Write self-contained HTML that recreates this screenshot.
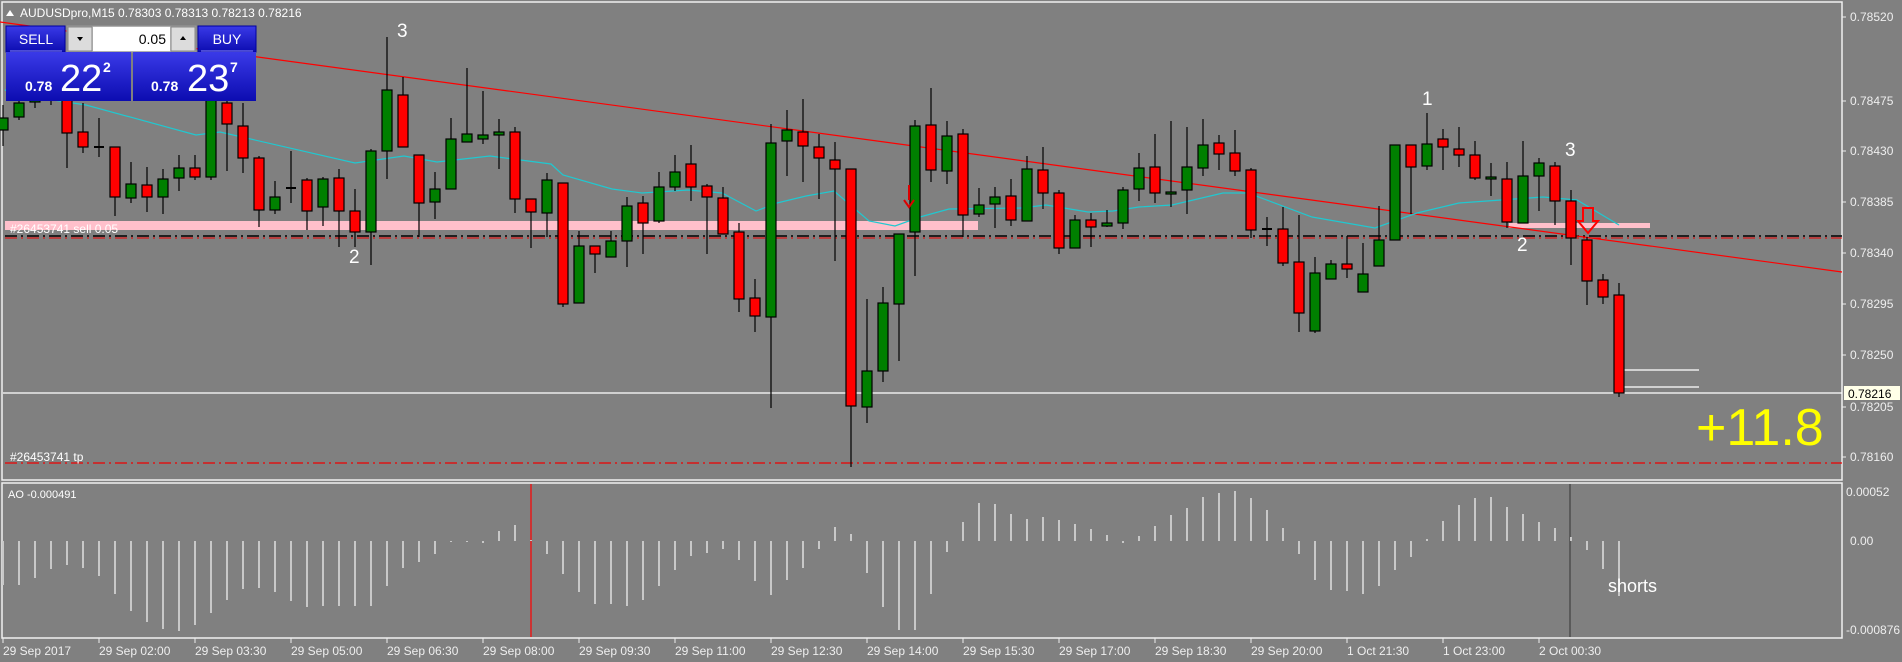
<!DOCTYPE html>
<html><head><meta charset="utf-8"><style>
html,body{margin:0;padding:0;background:#808080;width:1902px;height:662px;overflow:hidden}
svg{display:block}
text{font-family:"Liberation Sans",sans-serif}
</style></head><body>
<svg width="1902" height="662" viewBox="0 0 1902 662" xmlns="http://www.w3.org/2000/svg">
<defs>
<linearGradient id="bl" x1="0" y1="0" x2="0" y2="1"><stop offset="0" stop-color="#3a3ae8"/><stop offset="1" stop-color="#0c0cb0"/></linearGradient>
</defs>
<rect width="1902" height="662" fill="#808080"/>
<!-- frames -->
<g stroke="#f0f0f0" stroke-width="1.5" fill="none">
<rect x="2" y="2" width="1840" height="478"/>
<rect x="2" y="483" width="1840" height="155"/>
</g>
<!-- pink bands -->
<rect x="5" y="221" width="973" height="9" fill="#ffc0cb"/>
<rect x="1509" y="223" width="141" height="5" fill="#ffc0cb"/>
<!-- horizontal lines -->
<line x1="5" y1="236" x2="1842" y2="236" stroke="#000" stroke-width="1.5" stroke-dasharray="12,4,2,4"/>
<line x1="5" y1="238" x2="1842" y2="238" stroke="#e00" stroke-width="1" stroke-dasharray="12,4,2,4"/>
<line x1="5" y1="463" x2="1842" y2="463" stroke="#e00" stroke-width="1.2" stroke-dasharray="12,4,2,4"/>
<line x1="3" y1="393" x2="1842" y2="393" stroke="#fff" stroke-width="1.2"/>
<line x1="1624" y1="370" x2="1699" y2="370" stroke="#fff" stroke-width="1.2"/>
<line x1="1624" y1="387" x2="1699" y2="387" stroke="#fff" stroke-width="1.2"/>
<!-- trendline -->
<line x1="0" y1="22" x2="1842" y2="272" stroke="#ff0000" stroke-width="1.2"/>
<!-- MA -->
<polyline fill="none" stroke="#20c8d0" stroke-width="1.2" points="5,90 40,98 86,105 196,135 220,132 355,163 404,156 437,162 490,156 551,164 563,175 612,189 642,193 688,190 722,193 756,211 777,203 806,196 834,191 869,221 895,226 920,217 949,209 1021,208 1046,205 1088,212 1113,211 1139,207 1172,205 1223,193 1248,193 1312,217 1375,228 1417,213 1459,203 1501,200 1543,197 1577,200 1619,225"/>
<!-- candles -->
<g id="c" stroke="#000" stroke-width="1.2">
<line x1="3" y1="105" x2="3" y2="146"/><rect x="-2" y="118" width="10" height="12" fill="#008000"/>
<line x1="19" y1="95" x2="19" y2="120"/><rect x="14" y="103" width="10" height="14" fill="#008000"/>
<line x1="35" y1="90" x2="35" y2="108"/><rect x="30" y="95" width="10" height="7" fill="#008000"/>
<line x1="51" y1="85" x2="51" y2="105"/><rect x="46" y="90" width="10" height="10" fill="#f00"/>
<line x1="67" y1="95" x2="67" y2="168"/><rect x="62" y="100" width="10" height="33" fill="#f00"/>
<line x1="83" y1="103" x2="83" y2="153"/><rect x="78" y="132" width="10" height="15" fill="#f00"/>
<line x1="99" y1="118" x2="99" y2="157"/><line x1="94" y1="147" x2="104" y2="147" stroke-width="2"/>
<line x1="115" y1="147" x2="115" y2="216"/><rect x="110" y="147" width="10" height="50" fill="#f00"/>
<line x1="131" y1="162" x2="131" y2="203"/><rect x="126" y="184" width="10" height="14" fill="#008000"/>
<line x1="147" y1="167" x2="147" y2="212"/><rect x="142" y="185" width="10" height="12" fill="#f00"/>
<line x1="163" y1="169" x2="163" y2="214"/><rect x="158" y="179" width="10" height="18" fill="#008000"/>
<line x1="179" y1="155" x2="179" y2="191"/><rect x="174" y="168" width="10" height="10" fill="#008000"/>
<line x1="195" y1="155" x2="195" y2="180"/><rect x="190" y="168" width="10" height="9" fill="#f00"/>
<line x1="211" y1="85" x2="211" y2="180"/><rect x="206" y="100" width="10" height="77" fill="#008000"/>
<line x1="227" y1="92" x2="227" y2="171"/><rect x="222" y="103" width="10" height="21" fill="#f00"/>
<line x1="243" y1="103" x2="243" y2="173"/><rect x="238" y="126" width="10" height="32" fill="#f00"/>
<line x1="259" y1="156" x2="259" y2="227"/><rect x="254" y="158" width="10" height="52" fill="#f00"/>
<line x1="275" y1="181" x2="275" y2="214"/><rect x="270" y="197" width="10" height="13" fill="#008000"/>
<line x1="291" y1="151" x2="291" y2="203"/><line x1="286" y1="188" x2="296" y2="188" stroke-width="2"/>
<line x1="307" y1="178" x2="307" y2="230"/><rect x="302" y="180" width="10" height="31" fill="#f00"/>
<line x1="323" y1="177" x2="323" y2="226"/><rect x="318" y="179" width="10" height="28" fill="#008000"/>
<line x1="339" y1="169" x2="339" y2="247"/><rect x="334" y="178" width="10" height="33" fill="#f00"/>
<line x1="355" y1="189" x2="355" y2="247"/><rect x="350" y="211" width="10" height="21" fill="#f00"/>
<line x1="371" y1="149" x2="371" y2="265"/><rect x="366" y="151" width="10" height="81" fill="#008000"/>
<line x1="387" y1="37" x2="387" y2="179"/><rect x="382" y="90" width="10" height="61" fill="#008000"/>
<line x1="403" y1="77" x2="403" y2="147"/><rect x="398" y="95" width="10" height="52" fill="#f00"/>
<line x1="419" y1="155" x2="419" y2="237"/><rect x="414" y="155" width="10" height="48" fill="#f00"/>
<line x1="435" y1="172" x2="435" y2="219"/><rect x="430" y="189" width="10" height="13" fill="#008000"/>
<line x1="451" y1="118" x2="451" y2="189"/><rect x="446" y="139" width="10" height="50" fill="#008000"/>
<line x1="467" y1="68" x2="467" y2="142"/><rect x="462" y="134" width="10" height="8" fill="#008000"/>
<line x1="483" y1="91" x2="483" y2="144"/><rect x="478" y="135" width="10" height="4" fill="#008000"/>
<line x1="499" y1="119" x2="499" y2="169"/><rect x="494" y="132" width="10" height="3" fill="#008000"/>
<line x1="515" y1="127" x2="515" y2="213"/><rect x="510" y="132" width="10" height="67" fill="#f00"/>
<line x1="531" y1="199" x2="531" y2="248"/><rect x="526" y="199" width="10" height="13" fill="#f00"/>
<line x1="547" y1="173" x2="547" y2="237"/><rect x="542" y="180" width="10" height="33" fill="#008000"/>
<line x1="563" y1="183" x2="563" y2="307"/><rect x="558" y="183" width="10" height="121" fill="#f00"/>
<line x1="579" y1="231" x2="579" y2="303"/><rect x="574" y="246" width="10" height="57" fill="#008000"/>
<line x1="595" y1="246" x2="595" y2="273"/><rect x="590" y="246" width="10" height="8" fill="#f00"/>
<line x1="611" y1="231" x2="611" y2="257"/><rect x="606" y="241" width="10" height="16" fill="#008000"/>
<line x1="627" y1="197" x2="627" y2="267"/><rect x="622" y="206" width="10" height="35" fill="#008000"/>
<line x1="643" y1="196" x2="643" y2="254"/><rect x="638" y="203" width="10" height="20" fill="#f00"/>
<line x1="659" y1="172" x2="659" y2="223"/><rect x="654" y="187" width="10" height="34" fill="#008000"/>
<line x1="675" y1="155" x2="675" y2="191"/><rect x="670" y="172" width="10" height="15" fill="#008000"/>
<line x1="691" y1="145" x2="691" y2="201"/><rect x="686" y="164" width="10" height="23" fill="#f00"/>
<line x1="707" y1="184" x2="707" y2="254"/><rect x="702" y="186" width="10" height="11" fill="#f00"/>
<line x1="723" y1="187" x2="723" y2="234"/><rect x="718" y="198" width="10" height="36" fill="#f00"/>
<line x1="739" y1="223" x2="739" y2="312"/><rect x="734" y="232" width="10" height="67" fill="#f00"/>
<line x1="755" y1="279" x2="755" y2="332"/><rect x="750" y="298" width="10" height="18" fill="#f00"/>
<line x1="771" y1="124" x2="771" y2="408"/><rect x="766" y="143" width="10" height="174" fill="#008000"/>
<line x1="787" y1="110" x2="787" y2="176"/><rect x="782" y="130" width="10" height="11" fill="#008000"/>
<line x1="803" y1="99" x2="803" y2="182"/><rect x="798" y="132" width="10" height="14" fill="#f00"/>
<line x1="819" y1="134" x2="819" y2="199"/><rect x="814" y="147" width="10" height="11" fill="#f00"/>
<line x1="835" y1="142" x2="835" y2="261"/><rect x="830" y="160" width="10" height="9" fill="#f00"/>
<line x1="851" y1="169" x2="851" y2="467"/><rect x="846" y="169" width="10" height="237" fill="#f00"/>
<line x1="867" y1="299" x2="867" y2="423"/><rect x="862" y="371" width="10" height="36" fill="#008000"/>
<line x1="883" y1="287" x2="883" y2="382"/><rect x="878" y="303" width="10" height="68" fill="#008000"/>
<line x1="899" y1="234" x2="899" y2="361"/><rect x="894" y="234" width="10" height="70" fill="#008000"/>
<line x1="915" y1="120" x2="915" y2="276"/><rect x="910" y="126" width="10" height="106" fill="#008000"/>
<line x1="931" y1="88" x2="931" y2="182"/><rect x="926" y="125" width="10" height="45" fill="#f00"/>
<line x1="947" y1="121" x2="947" y2="184"/><rect x="942" y="136" width="10" height="35" fill="#008000"/>
<line x1="963" y1="129" x2="963" y2="237"/><rect x="958" y="134" width="10" height="81" fill="#f00"/>
<line x1="979" y1="188" x2="979" y2="217"/><rect x="974" y="205" width="10" height="9" fill="#008000"/>
<line x1="995" y1="187" x2="995" y2="228"/><rect x="990" y="197" width="10" height="7" fill="#008000"/>
<line x1="1011" y1="179" x2="1011" y2="226"/><rect x="1006" y="196" width="10" height="24" fill="#f00"/>
<line x1="1027" y1="156" x2="1027" y2="221"/><rect x="1022" y="169" width="10" height="52" fill="#008000"/>
<line x1="1043" y1="147" x2="1043" y2="209"/><rect x="1038" y="170" width="10" height="23" fill="#f00"/>
<line x1="1059" y1="190" x2="1059" y2="254"/><rect x="1054" y="193" width="10" height="55" fill="#f00"/>
<line x1="1075" y1="215" x2="1075" y2="248"/><rect x="1070" y="220" width="10" height="28" fill="#008000"/>
<line x1="1091" y1="213" x2="1091" y2="247"/><rect x="1086" y="220" width="10" height="7" fill="#f00"/>
<line x1="1107" y1="210" x2="1107" y2="227"/><rect x="1102" y="223" width="10" height="3" fill="#008000"/>
<line x1="1123" y1="187" x2="1123" y2="229"/><rect x="1118" y="190" width="10" height="33" fill="#008000"/>
<line x1="1139" y1="153" x2="1139" y2="201"/><rect x="1134" y="168" width="10" height="21" fill="#008000"/>
<line x1="1155" y1="134" x2="1155" y2="203"/><rect x="1150" y="167" width="10" height="26" fill="#f00"/>
<line x1="1171" y1="121" x2="1171" y2="207"/><rect x="1166" y="192" width="10" height="2" fill="#008000"/>
<line x1="1187" y1="127" x2="1187" y2="214"/><rect x="1182" y="167" width="10" height="23" fill="#008000"/>
<line x1="1203" y1="119" x2="1203" y2="176"/><rect x="1198" y="145" width="10" height="23" fill="#008000"/>
<line x1="1219" y1="135" x2="1219" y2="170"/><rect x="1214" y="143" width="10" height="11" fill="#f00"/>
<line x1="1235" y1="130" x2="1235" y2="176"/><rect x="1230" y="153" width="10" height="18" fill="#f00"/>
<line x1="1251" y1="168" x2="1251" y2="238"/><rect x="1246" y="170" width="10" height="60" fill="#f00"/>
<line x1="1267" y1="217" x2="1267" y2="246"/><line x1="1262" y1="229" x2="1272" y2="229" stroke-width="2"/>
<line x1="1283" y1="207" x2="1283" y2="266"/><rect x="1278" y="229" width="10" height="34" fill="#f00"/>
<line x1="1299" y1="215" x2="1299" y2="332"/><rect x="1294" y="262" width="10" height="51" fill="#f00"/>
<line x1="1315" y1="257" x2="1315" y2="333"/><rect x="1310" y="273" width="10" height="58" fill="#008000"/>
<line x1="1331" y1="260" x2="1331" y2="279"/><rect x="1326" y="264" width="10" height="15" fill="#008000"/>
<line x1="1347" y1="236" x2="1347" y2="278"/><rect x="1342" y="264" width="10" height="5" fill="#f00"/>
<line x1="1363" y1="243" x2="1363" y2="292"/><rect x="1358" y="274" width="10" height="18" fill="#008000"/>
<line x1="1379" y1="206" x2="1379" y2="266"/><rect x="1374" y="240" width="10" height="26" fill="#008000"/>
<rect x="1390" y="145" width="10" height="95" fill="#008000"/>
<line x1="1411" y1="145" x2="1411" y2="214"/><rect x="1406" y="145" width="10" height="22" fill="#f00"/>
<line x1="1427" y1="113" x2="1427" y2="170"/><rect x="1422" y="144" width="10" height="22" fill="#008000"/>
<line x1="1443" y1="129" x2="1443" y2="170"/><rect x="1438" y="139" width="10" height="8" fill="#f00"/>
<line x1="1459" y1="127" x2="1459" y2="167"/><rect x="1454" y="149" width="10" height="6" fill="#f00"/>
<line x1="1475" y1="141" x2="1475" y2="180"/><rect x="1470" y="155" width="10" height="23" fill="#f00"/>
<line x1="1491" y1="163" x2="1491" y2="196"/><rect x="1486" y="177" width="10" height="2" fill="#008000"/>
<line x1="1507" y1="162" x2="1507" y2="228"/><rect x="1502" y="179" width="10" height="43" fill="#f00"/>
<line x1="1523" y1="141" x2="1523" y2="223"/><rect x="1518" y="176" width="10" height="47" fill="#008000"/>
<line x1="1539" y1="158" x2="1539" y2="211"/><rect x="1534" y="163" width="10" height="13" fill="#008000"/>
<line x1="1555" y1="162" x2="1555" y2="225"/><rect x="1550" y="166" width="10" height="35" fill="#f00"/>
<line x1="1571" y1="190" x2="1571" y2="265"/><rect x="1566" y="201" width="10" height="37" fill="#f00"/>
<line x1="1587" y1="237" x2="1587" y2="305"/><rect x="1582" y="240" width="10" height="41" fill="#f00"/>
<line x1="1603" y1="274" x2="1603" y2="304"/><rect x="1598" y="280" width="10" height="17" fill="#f00"/>
<line x1="1619" y1="283" x2="1619" y2="397"/><rect x="1614" y="295" width="10" height="98" fill="#f00"/>
</g>
<!-- arrows -->
<path d="M909,185 V200 M904,200 L909,207 L914,200" stroke="#d00" stroke-width="2" fill="none"/>
<path d="M1583,208 H1593 V221 H1598 L1588,233 L1578,221 H1583 Z" stroke="#f00" stroke-width="2" fill="none"/>
<!-- wave labels -->
<g fill="#fff" font-size="19">
<text x="397" y="37">3</text>
<text x="349" y="263">2</text>
<text x="1422" y="105">1</text>
<text x="1565" y="156">3</text>
<text x="1517" y="251">2</text>
</g>
<text x="10" y="233" fill="#fff" font-size="12">#26453741 sell 0.05</text>
<text x="10" y="461" fill="#fff" font-size="12">#26453741 tp</text>
<text x="1696" y="445" fill="#ffff00" font-size="52">+11.8</text>
<!-- header -->
<path d="M6,16 L10,10 L14,16 Z" fill="#fff"/>
<text x="20" y="17" fill="#fff" font-size="12">AUDUSDpro,M15  0.78303 0.78313 0.78213 0.78216</text>
<!-- trade panel -->
<rect x="6" y="26" width="59" height="26" fill="url(#bl)" stroke="#0000a0"/>
<line x1="10" y1="51" x2="62" y2="51" stroke="#8a8aff"/>
<text x="36" y="44" fill="#fff" font-size="14" text-anchor="middle">SELL</text>
<rect x="67" y="26" width="129" height="26" fill="#c8c8c8" stroke="#999"/>
<rect x="68" y="27" width="24" height="24" fill="#dcdcdc" stroke="#888"/>
<path d="M77,37 L83,37 L80,41 Z" fill="#000"/>
<rect x="93" y="27" width="77" height="24" fill="#fff"/>
<text x="166" y="44" fill="#000" font-size="14" text-anchor="end">0.05</text>
<rect x="171" y="27" width="24" height="24" fill="#dcdcdc" stroke="#888"/>
<path d="M180,40 L186,40 L183,36 Z" fill="#000"/>
<rect x="198" y="26" width="58" height="26" fill="url(#bl)" stroke="#0000a0"/>
<line x1="201" y1="51" x2="253" y2="51" stroke="#8a8aff"/>
<text x="227" y="44" fill="#fff" font-size="14" text-anchor="middle">BUY</text>
<rect x="6" y="52" width="125" height="49" fill="url(#bl)"/>
<rect x="133" y="52" width="123" height="49" fill="url(#bl)"/>
<text x="25" y="91" fill="#fff" font-size="14" font-weight="bold">0.78</text>
<text x="60" y="91" fill="#fff" font-size="38">22</text>
<text x="103" y="72" fill="#fff" font-size="14" font-weight="bold">2</text>
<text x="151" y="91" fill="#fff" font-size="14" font-weight="bold">0.78</text>
<text x="187" y="91" fill="#fff" font-size="38">23</text>
<text x="230" y="72" fill="#fff" font-size="14" font-weight="bold">7</text>
<!-- price axis -->
<g fill="#eeeeee" font-size="12">
<text x="1850" y="21">0.78520</text>
<text x="1850" y="105">0.78475</text>
<text x="1850" y="155">0.78430</text>
<text x="1850" y="206">0.78385</text>
<text x="1850" y="257">0.78340</text>
<text x="1850" y="308">0.78295</text>
<text x="1850" y="359">0.78250</text>
<text x="1850" y="411">0.78205</text>
<text x="1850" y="461">0.78160</text>
<text x="1846" y="496">0.00052</text>
<text x="1850" y="545">0.00</text>
<text x="1846" y="634">-0.000876</text>
</g>
<g stroke="#eee" stroke-width="1">
<line x1="1842" y1="17" x2="1846" y2="17"/><line x1="1842" y1="101" x2="1846" y2="101"/><line x1="1842" y1="151" x2="1846" y2="151"/><line x1="1842" y1="202" x2="1846" y2="202"/><line x1="1842" y1="253" x2="1846" y2="253"/><line x1="1842" y1="304" x2="1846" y2="304"/><line x1="1842" y1="355" x2="1846" y2="355"/><line x1="1842" y1="407" x2="1846" y2="407"/><line x1="1842" y1="457" x2="1846" y2="457"/>
</g>
<rect x="1844" y="386" width="56" height="14" fill="#ffffe8"/>
<text x="1848" y="398" fill="#000" font-size="12">0.78216</text>
<!-- AO panel -->
<text x="8" y="498" fill="#fff" font-size="11">AO -0.000491</text>
<line x1="531" y1="484" x2="531" y2="637" stroke="#f00" stroke-width="1.2"/>
<line x1="1570" y1="484" x2="1570" y2="637" stroke="#333" stroke-width="1"/>
<path stroke="#c8c8c8" stroke-width="2" fill="none" d="M3,541v44M19,541v44M35,541v37M51,541v28M67,541v24M83,541v27M99,541v35M115,541v53M131,541v70M147,541v81M163,541v88M179,541v90M195,541v84M211,541v72M227,541v59M243,541v48M259,541v47M275,541v51M291,541v60M307,541v66M323,541v65M339,541v65M355,541v65M371,541v65M387,541v45M403,541v27M419,541v21M435,541v13M451,541v1M467,541v1M483,541v2M499,541v-10M515,541v-16M531,541v-1M547,541v13M563,541v33M579,541v51M595,541v63M611,541v63M627,541v65M643,541v59M659,541v45M675,541v29M691,541v15M707,541v12M723,541v8M739,541v19M755,541v40M771,541v54M787,541v39M803,541v27M819,541v8M835,541v-14M851,541v-7M867,541v32M883,541v66M899,541v89M915,541v89M931,541v53M947,541v11M963,541v-19M979,541v-38M995,541v-37M1011,541v-27M1027,541v-22M1043,541v-24M1059,541v-21M1075,541v-17M1091,541v-12M1107,541v-6M1123,541v2M1139,541v-5M1155,541v-15M1171,541v-26M1187,541v-33M1203,541v-44M1219,541v-48M1235,541v-50M1251,541v-43M1267,541v-31M1283,541v-13M1299,541v13M1315,541v39M1331,541v49M1347,541v50M1363,541v53M1379,541v45M1395,541v29M1411,541v16M1427,541v-2M1443,541v-20M1459,541v-36M1475,541v-43M1491,541v-44M1507,541v-34M1523,541v-27M1539,541v-19M1555,541v-13M1571,541v-4M1587,541v9M1603,541v28M1619,541v55"/>
<text x="1608" y="592" fill="#fff" font-size="18">shorts</text>
<!-- time axis -->
<g stroke="#eee" stroke-width="1">
<line x1="3" y1="638" x2="3" y2="643"/><line x1="99" y1="638" x2="99" y2="643"/><line x1="195" y1="638" x2="195" y2="643"/><line x1="291" y1="638" x2="291" y2="643"/><line x1="387" y1="638" x2="387" y2="643"/><line x1="483" y1="638" x2="483" y2="643"/><line x1="579" y1="638" x2="579" y2="643"/><line x1="675" y1="638" x2="675" y2="643"/><line x1="771" y1="638" x2="771" y2="643"/><line x1="867" y1="638" x2="867" y2="643"/><line x1="963" y1="638" x2="963" y2="643"/><line x1="1059" y1="638" x2="1059" y2="643"/><line x1="1155" y1="638" x2="1155" y2="643"/><line x1="1251" y1="638" x2="1251" y2="643"/><line x1="1347" y1="638" x2="1347" y2="643"/><line x1="1443" y1="638" x2="1443" y2="643"/><line x1="1539" y1="638" x2="1539" y2="643"/>
</g>
<g fill="#eeeeee" font-size="12">
<text x="3" y="655">29 Sep 2017</text>
<text x="99" y="655">29 Sep 02:00</text>
<text x="195" y="655">29 Sep 03:30</text>
<text x="291" y="655">29 Sep 05:00</text>
<text x="387" y="655">29 Sep 06:30</text>
<text x="483" y="655">29 Sep 08:00</text>
<text x="579" y="655">29 Sep 09:30</text>
<text x="675" y="655">29 Sep 11:00</text>
<text x="771" y="655">29 Sep 12:30</text>
<text x="867" y="655">29 Sep 14:00</text>
<text x="963" y="655">29 Sep 15:30</text>
<text x="1059" y="655">29 Sep 17:00</text>
<text x="1155" y="655">29 Sep 18:30</text>
<text x="1251" y="655">29 Sep 20:00</text>
<text x="1347" y="655">1 Oct 21:30</text>
<text x="1443" y="655">1 Oct 23:00</text>
<text x="1539" y="655">2 Oct 00:30</text>
</g>
</svg>
</body></html>
